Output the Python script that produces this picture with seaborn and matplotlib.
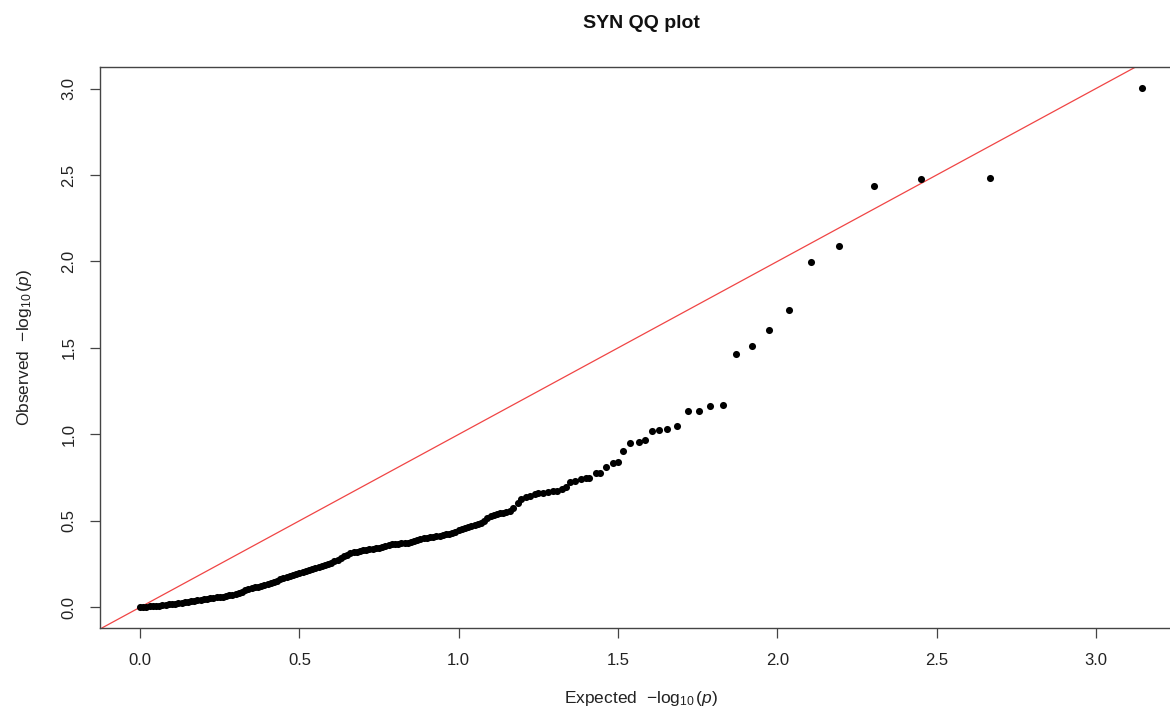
"""
SYN QQ plot: observed vs expected -log10(p), R base-graphics look, drawn with seaborn.
"""

import numpy as np
import pandas as pd
import matplotlib.pyplot as plt
import seaborn as sns


OUTPUT_FILE = "out.png"

# Dense body of the curve (one value every 0.01 on x).
expected_body = [
    0.00, 0.01, 0.02, 0.03, 0.04, 0.05, 0.06, 0.07, 0.08, 0.09,
    0.10, 0.11, 0.12, 0.13, 0.14, 0.15, 0.16, 0.17, 0.18, 0.19,
    0.20, 0.21, 0.22, 0.23, 0.24, 0.25, 0.26, 0.27, 0.28, 0.29,
    0.30, 0.31, 0.32, 0.33, 0.34, 0.35, 0.36, 0.37, 0.38, 0.39,
    0.40, 0.41, 0.42, 0.43, 0.44, 0.45, 0.46, 0.47, 0.48, 0.49,
    0.50, 0.51, 0.52, 0.53, 0.54, 0.55, 0.56, 0.57, 0.58, 0.59,
    0.60, 0.61, 0.62, 0.63, 0.64, 0.65, 0.66, 0.67, 0.68, 0.69,
    0.70, 0.71, 0.72, 0.73, 0.74, 0.75, 0.76, 0.77, 0.78, 0.79,
    0.80, 0.81, 0.82, 0.83, 0.84, 0.85, 0.86, 0.87, 0.88, 0.89,
    0.90, 0.91, 0.92, 0.93, 0.94, 0.95, 0.96, 0.97, 0.98, 0.99,
    1.00, 1.01, 1.02, 1.03, 1.04, 1.05, 1.06, 1.07, 1.08, 1.09,
    1.10, 1.11, 1.12, 1.13, 1.14, 1.15, 1.16, 1.17,
]
observed_body = [
    0.000, 0.002, 0.003, 0.005, 0.006, 0.008, 0.010, 0.011, 0.013, 0.016,
    0.018, 0.021, 0.024, 0.027, 0.030, 0.032, 0.035, 0.038, 0.041, 0.044,
    0.046, 0.049, 0.052, 0.054, 0.057, 0.060, 0.062, 0.065, 0.068, 0.071,
    0.077, 0.084, 0.090, 0.097, 0.104, 0.110, 0.115, 0.120, 0.125, 0.130,
    0.135, 0.140, 0.147, 0.154, 0.162, 0.169, 0.176, 0.183, 0.188, 0.194,
    0.199, 0.204, 0.210, 0.215, 0.220, 0.226, 0.232, 0.238, 0.244, 0.250,
    0.255, 0.265, 0.275, 0.285, 0.295, 0.305, 0.315, 0.318, 0.322, 0.325,
    0.329, 0.332, 0.336, 0.339, 0.342, 0.345, 0.347, 0.352, 0.358, 0.363,
    0.365, 0.367, 0.369, 0.371, 0.374, 0.376, 0.381, 0.387, 0.392, 0.398,
    0.401, 0.405, 0.408, 0.411, 0.415, 0.418, 0.421, 0.425, 0.428, 0.437,
    0.446, 0.455, 0.460, 0.464, 0.469, 0.475, 0.480, 0.486, 0.501, 0.515,
    0.530, 0.536, 0.541, 0.545, 0.547, 0.549, 0.555, 0.575,
]

# Sparser upper tail, point by point.
expected_tail = [
    1.185, 1.197, 1.21, 1.225, 1.24, 1.25, 1.265, 1.28, 1.295, 1.31,
    1.325, 1.338, 1.35, 1.365, 1.385, 1.40, 1.41, 1.43, 1.445, 1.461,
    1.483, 1.499, 1.517, 1.539, 1.565, 1.585, 1.608, 1.63, 1.655, 1.685,
    1.719, 1.753, 1.788, 1.829, 1.87, 1.92, 1.974, 2.036, 2.107, 2.194,
    2.303, 2.45, 2.667, 3.145,
]
observed_tail = [
    0.605, 0.625, 0.635, 0.645, 0.655, 0.660, 0.663, 0.666, 0.670, 0.675,
    0.685, 0.695, 0.724, 0.733, 0.741, 0.745, 0.748, 0.776, 0.776, 0.810,
    0.834, 0.840, 0.903, 0.950, 0.955, 0.970, 1.020, 1.025, 1.030, 1.050,
    1.137, 1.137, 1.166, 1.172, 1.463, 1.513, 1.604, 1.718, 1.999, 2.088,
    2.438, 2.478, 2.484, 3.005,
]

x_ticks = [0.0, 0.5, 1.0, 1.5, 2.0, 2.5, 3.0]
y_ticks = [0.0, 0.5, 1.0, 1.5, 2.0, 2.5, 3.0]


def main():
    df = pd.DataFrame({
        "expected": expected_body + expected_tail,
        "observed": observed_body + observed_tail,
    })

    sns.set_theme(style="white")
    plt.rcParams["font.family"] = ["Liberation Sans", "DejaVu Sans"]
    plt.rcParams["mathtext.fontset"] = "custom"
    plt.rcParams["mathtext.rm"] = "Liberation Sans"
    plt.rcParams["mathtext.it"] = "Liberation Sans:italic"

    fig = plt.figure(figsize=(11.7, 7.11), dpi=100)
    # axes box runs a little past the right edge, as in the cropped original
    ax = fig.add_axes([0.0855, 0.1167, 0.9248, 0.7891])

    # R-style 4% padding around the data range
    xmax = max(df["expected"])
    ymax = max(df["observed"])
    ax.set_xlim(-0.04 * xmax, xmax * 1.04)
    ax.set_ylim(-0.04 * ymax, ymax * 1.04)

    ax.axline((0, 0), slope=1, color="#f04545", linewidth=0.9, zorder=1)

    sns.scatterplot(data=df, x="expected", y="observed", color="black",
                    s=26, linewidth=0, ax=ax, zorder=2, legend=False)

    ax.set_xticks(x_ticks)
    ax.set_xticklabels([f"{t:.1f}" for t in x_ticks])
    ax.set_yticks(y_ticks)
    ax.set_yticklabels([f"{t:.1f}" for t in y_ticks], rotation=90, va="center")

    ax.tick_params(axis="both", which="major", length=7, width=0.9,
                   color="#444444", labelcolor="#222222", labelsize=12,
                   pad=11, direction="out", bottom=True, left=True)
    ax.tick_params(axis="y", pad=10)
    for side in ax.spines:
        ax.spines[side].set_linewidth(1.0)
        ax.spines[side].set_color("#444444")

    ax.set_xlabel(r"Expected  $-\log_{10}(p)$", fontsize=12.5,
                  color="#222222", labelpad=15)
    ax.set_ylabel(r"Observed  $-\log_{10}(p)$", fontsize=12.5,
                  color="#222222", labelpad=20)
    ax.set_title("SYN QQ plot", fontsize=14, fontweight="bold",
                 color="#111111", pad=28)

    fig.savefig(OUTPUT_FILE, dpi=100, facecolor="white")


if __name__ == "__main__":
    main()
